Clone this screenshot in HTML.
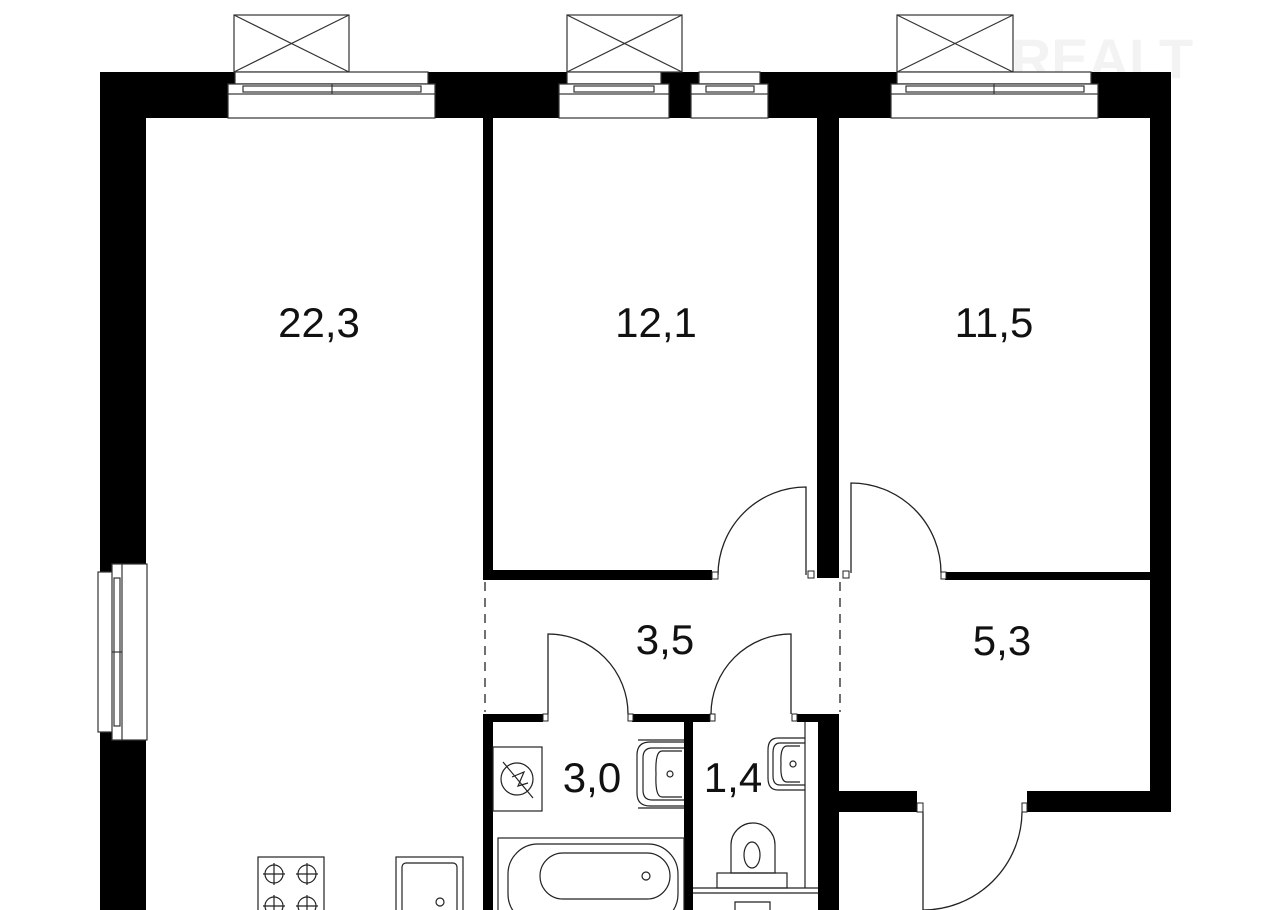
<!DOCTYPE html>
<html><head><meta charset="utf-8"><style>
html,body{margin:0;padding:0;background:#fff;width:1269px;height:910px;overflow:hidden}
svg{display:block}
text{font-family:"Liberation Sans",sans-serif;font-size:42px;fill:#111;text-anchor:middle}
</style></head><body>
<svg width="1269" height="910" viewBox="0 0 1269 910" xmlns="http://www.w3.org/2000/svg">
<rect width="1269" height="910" fill="#fff"/>
<text x="1060" y="78" style="font-size:56px;font-weight:bold;fill:#f3f3f3">ONREALT</text>
<g fill="#000">
<!-- top wall -->
<rect x="100" y="72" width="1071" height="46"/>
<!-- left wall -->
<rect x="100" y="72" width="46" height="838"/>
<!-- right wall -->
<rect x="1150" y="72" width="21" height="740"/>
<!-- wall 22.3 / 12.1 -->
<rect x="483" y="118" width="10" height="462"/>
<!-- wall 12.1 / 11.5 -->
<rect x="817" y="118" width="22" height="460"/>
<!-- bottom of 12.1 -->
<rect x="483" y="570" width="229" height="10"/>
<!-- bottom of 11.5 -->
<rect x="945" y="572" width="206" height="8"/>
<!-- bath horizontal wall -->
<rect x="483" y="714" width="60" height="8"/>
<rect x="632" y="714" width="78" height="8"/>
<rect x="797" y="714" width="42" height="8"/>
<!-- bath verticals -->
<rect x="483" y="714" width="10" height="196"/>
<rect x="684" y="714" width="9" height="196"/>
<rect x="818" y="714" width="21" height="196"/>
<!-- 5.3 bottom wall -->
<rect x="839" y="791" width="78" height="21"/>
<rect x="1027" y="791" width="144" height="21"/>
</g>
<!-- windows top -->
<g fill="#fff" stroke="#333" stroke-width="1.2">
<rect x="234" y="15" width="115" height="57"/>
<line x1="234" y1="15" x2="349" y2="72"/><line x1="349" y1="15" x2="234" y2="72"/>
<rect x="235" y="72" width="193" height="12"/>
<rect x="228" y="84" width="207" height="34"/>
<rect x="228" y="84" width="207" height="10"/>
<rect x="243" y="86" width="178" height="6"/>
<line x1="332" y1="84" x2="332" y2="94"/>

<rect x="567" y="15" width="115" height="57"/>
<line x1="567" y1="15" x2="682" y2="72"/><line x1="682" y1="15" x2="567" y2="72"/>
<rect x="567" y="72" width="94" height="12"/>
<rect x="559" y="84" width="110" height="34"/>
<rect x="559" y="84" width="110" height="10"/>
<rect x="574" y="86" width="80" height="6"/>
<rect x="699" y="72" width="61" height="12"/>
<rect x="691" y="84" width="77" height="34"/>
<rect x="691" y="84" width="77" height="10"/>
<rect x="706" y="86" width="48" height="6"/>

<rect x="897" y="15" width="116" height="57"/>
<line x1="897" y1="15" x2="1013" y2="72"/><line x1="1013" y1="15" x2="897" y2="72"/>
<rect x="897" y="72" width="194" height="12"/>
<rect x="891" y="84" width="207" height="34"/>
<rect x="891" y="84" width="207" height="10"/>
<rect x="906" y="86" width="178" height="6"/>
<line x1="994" y1="84" x2="994" y2="94"/>

<!-- left window -->
<rect x="112" y="564" width="35" height="176"/>
<rect x="98" y="572" width="22" height="160"/>
<rect x="112" y="564" width="10" height="176"/>
<rect x="114" y="578" width="6" height="148"/>
<line x1="112" y1="652" x2="122" y2="652"/>
</g>
<!-- doors -->
<g fill="none" stroke="#222" stroke-width="1.3">
<path d="M806 575 V487 A88 88 0 0 0 718 575"/>
<path d="M851 573 V483 A90 90 0 0 1 941 573"/>
<path d="M548 714 V634 A80 80 0 0 1 628 714"/>
<path d="M791 714 V634 A80 80 0 0 0 711 714"/>
<path d="M923 812 V910 A99 99 0 0 0 1022 812"/>
<line x1="485" y1="582" x2="485" y2="712" stroke-dasharray="9 7"/>
<line x1="840" y1="582" x2="840" y2="712" stroke-dasharray="9 7"/>
</g>
<g fill="#fff" stroke="#222" stroke-width="1">
<rect x="712" y="572" width="6" height="7"/>
<rect x="808" y="571" width="6" height="7"/><rect x="843" y="571" width="6" height="7"/>
<rect x="941" y="572" width="5" height="7"/>
<rect x="543" y="714" width="5" height="7"/><rect x="628" y="714" width="5" height="7"/>
<rect x="710" y="714" width="5" height="7"/><rect x="792" y="714" width="5" height="7"/>
<rect x="917" y="803" width="6" height="9"/><rect x="1022" y="803" width="5" height="9"/>
</g>
<!-- fixtures -->
<g fill="none" stroke="#222" stroke-width="1.2">
<rect x="493" y="747" width="49" height="64"/>
<circle cx="517" cy="779" r="16"/>
<path d="M503 762 L533 798 M512 777 L524 772 L518 786 L528 783"/>
<line x1="638" y1="740" x2="684" y2="740"/><line x1="638" y1="808" x2="684" y2="808"/>
<path d="M684 742 H650 Q637 742 637 755 V793 Q637 806 650 806 H684"/>
<path d="M684 748 H652 Q643 748 643 758 V790 Q643 800 652 800 H684"/>
<path d="M682 751 H662 Q655 751 656 774 Q655 797 662 797 H682"/>
<circle cx="670" cy="774" r="3"/>
<rect x="498" y="838" width="186" height="80"/>
<rect x="508" y="844" width="170" height="80" rx="30"/>
<rect x="540" y="853" width="130" height="46" rx="23"/>
<circle cx="646" cy="876" r="4"/>
<line x1="805" y1="722" x2="805" y2="888"/>
<line x1="693" y1="888" x2="818" y2="888"/><line x1="693" y1="893" x2="818" y2="893"/>
<path d="M805 738 H778 Q768 738 768 750 V778 Q768 790 778 790 H805"/>
<path d="M805 743 H780 Q773 743 773 753 V776 Q773 785 780 785 H805"/>
<path d="M800 746 H787 Q780 746 781 764 Q780 782 787 782 H800"/>
<circle cx="793" cy="764" r="3"/>
<path d="M731 873 V845 A22 22 0 0 1 775 845 V873 Z"/>
<ellipse cx="752" cy="855" rx="8" ry="13"/>
<rect x="717" y="873" width="70" height="15"/>
<path d="M735 910 V902 H770 V910"/>
<rect x="258" y="857" width="66" height="60"/>
<g>
<circle cx="274" cy="874" r="9"/><circle cx="307" cy="874" r="9"/>
<circle cx="274" cy="906" r="9"/><circle cx="307" cy="906" r="9"/>
<path d="M274 863 V885 M263 874 H285 M307 863 V885 M296 874 H318 M274 895 V910 M263 906 H285 M307 895 V910 M296 906 H318"/>
</g>
<rect x="396" y="857" width="67" height="60"/>
<rect x="402" y="863" width="55" height="60" rx="4"/>
<circle cx="440" cy="902" r="4"/>
</g>
<!-- labels -->
<text x="319" y="337">22,3</text>
<text x="656" y="337">12,1</text>
<text x="994" y="337">11,5</text>
<text x="665" y="654">3,5</text>
<text x="1002" y="655">5,3</text>
<text x="592" y="792">3,0</text>
<text x="733" y="792">1,4</text>
</svg>
</body></html>
